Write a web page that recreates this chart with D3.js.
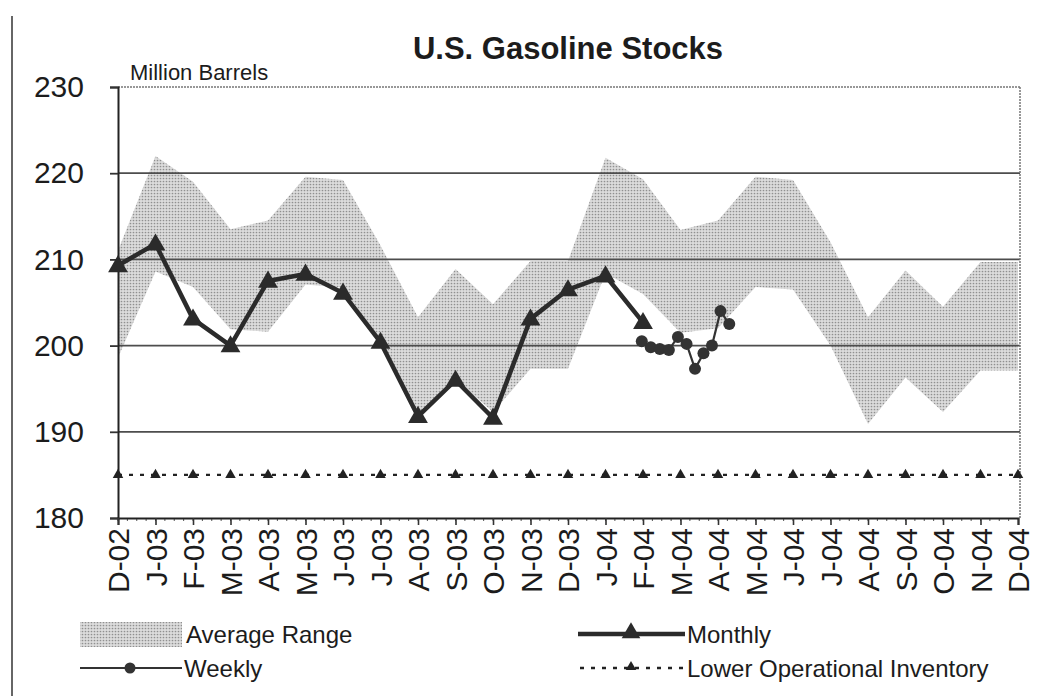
<!DOCTYPE html>
<html>
<head>
<meta charset="utf-8">
<script src="https://cdn.jsdelivr.net/npm/d3@7"></script>
<style>
    body { margin: 0; background: #fff; }
    svg text { font-family: "Liberation Sans", Arial, sans-serif; fill: #1c1c1c; }
</style>
</head>
<body>
<div id="chart-area"></div>
<script>
// month categories on the x axis
const months = ["D-02","J-03","F-03","M-03","A-03","M-03","J-03","J-03","A-03","S-03","O-03","N-03",
    "D-03","J-04","F-04","M-04","A-04","M-04","J-04","J-04","A-04","S-04","O-04","N-04","D-04"];

// average range, upper and lower edge (million barrels)
const rangeHigh = [211.0, 222.0, 219.0, 213.5, 214.5, 219.6, 219.2, 211.6, 203.3, 208.9, 204.8, 209.8,
    209.8, 221.8, 219.3, 213.4, 214.5, 219.6, 219.2, 212.0, 203.3, 208.7, 204.5, 209.7, 209.7];
const rangeLow = [198.6, 208.6, 206.8, 201.9, 201.6, 207.1, 206.7, 200.4, 191.5, 196.1, 192.3, 197.3,
    197.3, 208.4, 206.0, 201.5, 202.0, 206.8, 206.5, 200.0, 190.9, 196.3, 192.3, 197.1, 197.1];

// monthly stocks, D-02 .. F-04
const monthly = [209.3, 211.8, 203.1, 200.0, 207.5, 208.3, 206.1, 200.4, 191.8, 196.0, 191.6, 203.1,
    206.5, 208.1, 202.7];

// weekly stocks 2004
const weeklyDates = ["2004-01-31","2004-02-07","2004-02-14","2004-02-21","2004-02-28","2004-03-06",
    "2004-03-13","2004-03-20","2004-03-27","2004-04-03","2004-04-10"];
const weekly = [200.5, 199.8, 199.6, 199.5, 201.0, 200.2, 197.3, 199.1, 200.0, 204.0, 202.5];

// lower operational inventory
const lowerInventory = [185.0, 185.0, 185.0, 185.0, 185.0, 185.0, 185.0, 185.0, 185.0, 185.0, 185.0, 185.0,
    185.0, 185.0, 185.0, 185.0, 185.0, 185.0, 185.0, 185.0, 185.0, 185.0, 185.0, 185.0, 185.0];

const yTicks = [180, 190, 200, 210, 220, 230];

class StocksChart {

    constructor(parentElement) {
        this.parentElement = parentElement;
        this.initVis();
    }

    initVis() {
        let vis = this;

        vis.width = 1037;
        vis.height = 696;
        vis.plot = {left: 118, right: 1018, top: 87, bottom: 518};

        vis.svg = d3.select("#" + vis.parentElement).append("svg")
            .attr("width", vis.width)
            .attr("height", vis.height);

        // dotted fill used for the average range
        let pat = vis.svg.append("defs").append("pattern")
            .attr("id", "dots")
            .attr("patternUnits", "userSpaceOnUse")
            .attr("width", 3).attr("height", 3);
        pat.append("rect").attr("width", 3).attr("height", 3).attr("fill", "#dcdcdc");
        pat.append("circle").attr("cx", 1.5).attr("cy", 1.5).attr("r", 0.85).attr("fill", "#909090");

        vis.x = d3.scaleLinear().domain([0, months.length - 1]).range([vis.plot.left, vis.plot.right]);
        vis.y = d3.scaleLinear().domain([180, 230]).range([vis.plot.bottom, vis.plot.top]);

        // page edge on the left
        vis.svg.append("line")
            .attr("x1", 12).attr("x2", 12).attr("y1", 16).attr("y2", vis.height)
            .attr("stroke", "#333").attr("stroke-width", 1.5);

        vis.svg.append("text")
            .attr("x", 568).attr("y", 59)
            .attr("text-anchor", "middle")
            .attr("font-size", 31).attr("font-weight", "bold")
            .text("U.S. Gasoline Stocks");

        vis.svg.append("text")
            .attr("x", 130).attr("y", 80)
            .attr("font-size", 22)
            .text("Million Barrels");

        vis.updateVis();
    }

    // month index for a weekly date
    dateIndex(s) {
        let d = new Date(s + "T00:00:00");
        let m = (d.getFullYear() - 2002) * 12 + d.getMonth() - 11;
        let days = new Date(d.getFullYear(), d.getMonth() + 1, 0).getDate();
        return m + (d.getDate() - 1) / days;
    }

    updateVis() {
        let vis = this;
        let x = vis.x, y = vis.y;

        // average range band
        let area = d3.area()
            .x((d, i) => x(i))
            .y0((d, i) => y(rangeLow[i]))
            .y1(d => y(d));
        vis.svg.append("path")
            .datum(rangeHigh)
            .attr("d", area)
            .attr("fill", "url(#dots)");

        // gridlines
        vis.svg.append("g").selectAll("line")
            .data(yTicks.filter(t => t > 180 && t < 230))
            .enter().append("line")
            .attr("x1", vis.plot.left).attr("x2", vis.plot.right + 2)
            .attr("y1", d => y(d)).attr("y2", d => y(d))
            .attr("stroke", "#4d4d4d").attr("stroke-width", 1.8);

        // plot frame: dotted top and right
        vis.svg.append("line")
            .attr("x1", vis.plot.left).attr("x2", vis.plot.right + 2)
            .attr("y1", y(230)).attr("y2", y(230))
            .attr("stroke", "#777").attr("stroke-width", 1.5).attr("stroke-dasharray", "2,1");
        vis.svg.append("line")
            .attr("x1", vis.plot.right + 2).attr("x2", vis.plot.right + 2)
            .attr("y1", y(230)).attr("y2", y(180))
            .attr("stroke", "#777").attr("stroke-width", 1.5).attr("stroke-dasharray", "2,1");

        // y axis
        let yAxis = d3.axisLeft(y).tickValues(yTicks).tickSize(8).tickPadding(26).tickFormat(d3.format("d"));
        let gy = vis.svg.append("g")
            .attr("transform", `translate(${vis.plot.left},0)`)
            .call(yAxis);
        gy.select(".domain").attr("stroke", "#222").attr("stroke-width", 2);
        gy.selectAll(".tick line").attr("stroke", "#333").attr("stroke-width", 1.8);
        gy.selectAll("text").attr("font-size", 30).attr("fill", "#1c1c1c")
            .style("font-family", "Liberation Sans, Arial, sans-serif");

        // minor ticks on the x axis
        vis.svg.append("g").selectAll("line")
            .data(d3.range(0, months.length - 1, 0.25))
            .enter().append("line")
            .attr("x1", d => x(d)).attr("x2", d => x(d))
            .attr("y1", vis.plot.bottom).attr("y2", vis.plot.bottom + 3)
            .attr("stroke", "#555").attr("stroke-width", 1);

        // x axis
        let xAxis = d3.axisBottom(x).tickValues(d3.range(months.length)).tickSize(7)
            .tickFormat(i => months[i]);
        let gx = vis.svg.append("g")
            .attr("transform", `translate(0,${vis.plot.bottom})`)
            .call(xAxis);
        gx.select(".domain").attr("stroke", "#222").attr("stroke-width", 2);
        gx.selectAll(".tick line").attr("stroke", "#333").attr("stroke-width", 1.6);
        gx.selectAll("text")
            .attr("font-size", 30).attr("fill", "#1c1c1c")
            .style("font-family", "Liberation Sans, Arial, sans-serif")
            .attr("text-anchor", "end")
            .attr("transform", "rotate(-90)")
            .attr("x", -10).attr("y", 0).attr("dy", "0.36em");

        // lower operational inventory
        vis.svg.append("path")
            .datum(lowerInventory)
            .attr("d", d3.line().x((d, i) => x(i)).y(d => y(d)))
            .attr("fill", "none").attr("stroke", "#222").attr("stroke-width", 2.4)
            .attr("stroke-dasharray", "4,7");
        vis.svg.append("g").selectAll("path")
            .data(lowerInventory)
            .enter().append("path")
            .attr("d", d3.symbol(d3.symbolTriangle, 48))
            .attr("transform", (d, i) => `translate(${x(i)},${y(d)})`)
            .attr("fill", "#222");

        // monthly
        vis.svg.append("path")
            .datum(monthly)
            .attr("d", d3.line().x((d, i) => x(i)).y(d => y(d)))
            .attr("fill", "none").attr("stroke", "#2b2b2b").attr("stroke-width", 4.5)
            .attr("stroke-linejoin", "round");
        vis.svg.append("g").selectAll("path")
            .data(monthly)
            .enter().append("path")
            .attr("d", d3.symbol(d3.symbolTriangle, 170))
            .attr("transform", (d, i) => `translate(${x(i)},${y(d) + 1})`)
            .attr("fill", "#2b2b2b");

        // weekly
        let wk = weekly.map((v, i) => ({x: vis.dateIndex(weeklyDates[i]), v: v}));
        vis.svg.append("path")
            .datum(wk)
            .attr("d", d3.line().x(d => x(d.x)).y(d => y(d.v)))
            .attr("fill", "none").attr("stroke", "#333").attr("stroke-width", 2.2);
        vis.svg.append("g").selectAll("circle")
            .data(wk)
            .enter().append("circle")
            .attr("cx", d => x(d.x)).attr("cy", d => y(d.v))
            .attr("r", 6).attr("fill", "#333");

        vis.drawLegend();
    }

    drawLegend() {
        let vis = this;
        let lg = vis.svg.append("g");

        // average range
        lg.append("rect").attr("x", 80).attr("y", 622).attr("width", 102).attr("height", 25)
            .attr("fill", "url(#dots)");
        lg.append("text").attr("x", 186).attr("y", 643).attr("font-size", 24).text("Average Range");

        // weekly
        lg.append("line").attr("x1", 80).attr("x2", 182).attr("y1", 668).attr("y2", 668)
            .attr("stroke", "#333").attr("stroke-width", 2.2);
        lg.append("circle").attr("cx", 130).attr("cy", 668).attr("r", 5.5).attr("fill", "#333");
        lg.append("text").attr("x", 184).attr("y", 677).attr("font-size", 24).text("Weekly");

        // monthly
        lg.append("line").attr("x1", 578).attr("x2", 685).attr("y1", 634).attr("y2", 634)
            .attr("stroke", "#2b2b2b").attr("stroke-width", 4.5);
        lg.append("path").attr("d", d3.symbol(d3.symbolTriangle, 150))
            .attr("transform", "translate(631,633)").attr("fill", "#2b2b2b");
        lg.append("text").attr("x", 687).attr("y", 643).attr("font-size", 24).text("Monthly");

        // lower operational inventory
        lg.append("line").attr("x1", 580).attr("x2", 685).attr("y1", 668).attr("y2", 668)
            .attr("stroke", "#222").attr("stroke-width", 2.4).attr("stroke-dasharray", "4,7");
        lg.append("path").attr("d", d3.symbol(d3.symbolTriangle, 48))
            .attr("transform", "translate(631,667)").attr("fill", "#222");
        lg.append("text").attr("x", 687).attr("y", 677).attr("font-size", 24).text("Lower Operational Inventory");
    }
}

let chart = new StocksChart("chart-area");
</script>
</body>
</html>
